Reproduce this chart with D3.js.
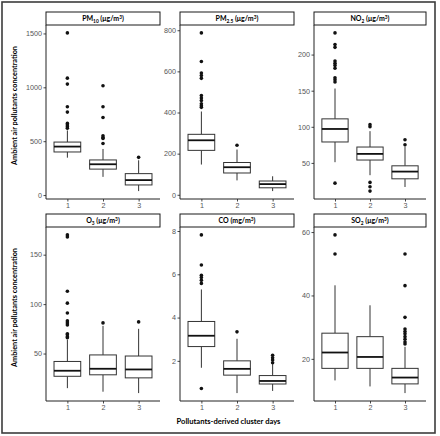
<!DOCTYPE html>
<html><head><meta charset="utf-8">
<script src="https://cdn.jsdelivr.net/npm/d3@7"></script>
<style>body{margin:0;background:#fff}svg{display:block}</style>
</head><body>
<script>
// ---------- DATA ----------
const clusters = ["1", "2", "3"];
const pollutants = ["PM10", "PM2.5", "NO2", "O3", "CO", "SO2"];
// strip labels: [text, kind] kind: n normal, b subscript, p superscript
const stripLabels = [
  [["PM","n"],["10","b"],[" (μg/m","n"],["3","p"],[")","n"]],
  [["PM","n"],["2.5","b"],[" (μg/m","n"],["3","p"],[")","n"]],
  [["NO","n"],["2","b"],[" (μg/m","n"],["3","p"],[")","n"]],
  [["O","n"],["3","b"],[" (μg/m","n"],["3","p"],[")","n"]],
  [["CO (mg/m","n"],["3","p"],[")","n"]],
  [["SO","n"],["2","b"],[" (μg/m","n"],["3","p"],[")","n"]]
];
// box stats per cluster: [lower whisker, q1, median, q3, upper whisker]
const pm10Stats = [[347, 400, 450, 492, 600], [169, 241, 286, 326, 428], [37, 94, 139, 199, 323]];
const pm10Outliers = [[1505, 1085, 1030, 820, 770, 665, 650, 635, 620], [1015, 820, 720, 550, 535, 525, 478], [350]];
const pm25Stats = [[147, 216, 265, 294, 405], [70, 106, 134, 157, 220], [18, 34, 52, 67, 90]];
const pm25Outliers = [[787, 648, 592, 580, 566, 483, 470, 458, 442, 433, 425], [241], []];
const no2Stats = [[51, 79, 97, 111, 153], [33, 54, 62.5, 72, 94], [16.7, 28, 38, 46, 72]];
const no2Outliers = [[230, 214, 210, 191, 188, 185, 181, 168, 165, 162, 22], [103, 100, 23, 17, 11], [82, 75]];
const o3Stats = [[15, 27, 32.6, 42, 64], [11.4, 28.5, 34.6, 48.6, 78], [10, 25.4, 33.9, 47.5, 75]];
const o3Outliers = [[170, 168, 113, 101, 91, 83, 81, 79, 70, 69, 67, 66], [81], [82]];
const coStats = [[1.68, 2.66, 3.16, 3.82, 5.3], [0.51, 1.34, 1.63, 2.0, 3.02], [0.61, 0.93, 1.07, 1.32, 1.85]];
const coOutliers = [[7.82, 6.43, 5.95, 5.85, 5.72, 5.58, 0.72], [3.34], [2.26, 2.14, 2.04, 1.91]];
const so2Stats = [[13.2, 17.0, 22.0, 28.1, 43.2], [11.3, 17.0, 20.6, 27.0, 36.9], [9.2, 12.1, 14.1, 17.0, 23.8]];
const so2Outliers = [[59.1, 53.1], [], [53.1, 43.1, 33.1, 29.4, 28.6, 27.9, 27.0, 26.2, 25.3, 24.7]];
const pm10Ticks = [0, 500, 1000, 1500];
const pm25Ticks = [0, 200, 400, 600, 800];
const no2Ticks = [50, 100, 150, 200];
const o3Ticks = [50, 100, 150];
const coTicks = [2, 4, 6, 8];
const so2Ticks = [20, 40, 60];
const yTitle = "Ambient air pollutants concentration";
const xTitle = "Pollutants-derived cluster days";

const allStats = [pm10Stats, pm25Stats, no2Stats, o3Stats, coStats, so2Stats];
const allOutliers = [pm10Outliers, pm25Outliers, no2Outliers, o3Outliers, coOutliers, so2Outliers];
const allTicks = [pm10Ticks, pm25Ticks, no2Ticks, o3Ticks, coTicks, so2Ticks];

// ---------- LAYOUT ----------
const W = 440, H = 436;
const colX = [[46, 160], [180, 294], [314, 426]];
const rowY = [{strip: 12, top: 25, bottom: 199}, {strip: 214, top: 227, bottom: 401}];
const titleFont = "Lato, 'Open Sans', sans-serif";
const tickFont = "'Liberation Sans', Arial, sans-serif";

const svg = d3.select("body").append("svg").attr("width", W).attr("height", H);
svg.append("rect").attr("width", W).attr("height", H).attr("fill", "#fff");
svg.append("rect").attr("x", 2).attr("y", 2).attr("width", 433).attr("height", 431)
  .attr("fill", "none").attr("stroke", "#3c3c3c").attr("stroke-width", 1.6);

pollutants.forEach((p, i) => {
  const col = i % 3, row = Math.floor(i / 3);
  const [x0, x1] = colX[col];
  const r = rowY[row];
  const stats = allStats[i], outs = allOutliers[i];
  const vals = stats.flat().concat(outs.flat());
  const mn = d3.min(vals), mx = d3.max(vals), span = mx - mn;
  const y = d3.scaleLinear().domain([mn - 0.05 * span, mx + 0.05 * span]).range([r.bottom, r.top]);
  const x = d3.scaleBand().domain(clusters).range([x0, x1]).paddingInner(0.25).paddingOuter(0.475);
  // compute band so that centers follow ggplot discrete expansion (0.6 units)
  const step = (x1 - x0) / (clusters.length - 1 + 1.2);
  const cx = c => x0 + (0.6 + clusters.indexOf(c)) * step;
  const bw = 0.75 * step;

  const g = svg.append("g");
  // strip
  g.append("rect").attr("x", x0).attr("y", r.strip).attr("width", x1 - x0).attr("height", r.top - r.strip)
    .attr("fill", "#fff").attr("stroke", "#1a1a1a").attr("stroke-width", 1);
  const st = g.append("text").attr("x", (x0 + x1) / 2).attr("y", r.strip + 9.3)
    .attr("text-anchor", "middle").attr("font-family", titleFont).attr("font-weight", "bold")
    .attr("font-size", 7).attr("fill", "#000");
  stripLabels[i].forEach(([t, k]) => {
    const ts = st.append("tspan").text(t);
    if (k === "b") ts.attr("font-size", 4.8).attr("dy", 1.5);
    else if (k === "p") ts.attr("font-size", 4.8).attr("dy", -2.5);
    else ts.attr("dy", 0);
  });
  // fix dy resets: tspans after sub/sup need reverse shift
  let prev = 0;
  st.selectAll("tspan").each(function (d, j) {
    const k = stripLabels[i][j][1];
    const cur = k === "b" ? 1.5 : k === "p" ? -2.5 : 0;
    d3.select(this).attr("dy", cur - prev);
    prev = cur;
  });

  // axes
  const yAxis = d3.axisLeft(y).tickValues(allTicks[i]).tickSize(2.5).tickPadding(1.5).tickFormat(d3.format("d"));
  const ya = g.append("g").attr("transform", `translate(${x0},0)`).call(yAxis);
  ya.select(".domain").remove();
  const xa = g.append("g").attr("transform", `translate(0,${r.bottom})`)
    .call(d3.axisBottom(d3.scalePoint().domain(clusters).range([cx("1"), cx("3")])).tickSize(2.5).tickPadding(1.5));
  xa.select(".domain").remove();
  [ya, xa].forEach(a => {
    a.selectAll(".tick line").attr("stroke", "#333").attr("stroke-width", 0.9);
    a.selectAll(".tick text").attr("fill", "#555").attr("font-family", tickFont).attr("font-size", 7.2);
  });
  g.append("line").attr("x1", x0).attr("x2", x0).attr("y1", r.top).attr("y2", r.bottom)
    .attr("stroke", "#222").attr("stroke-width", 1);
  g.append("line").attr("x1", x0).attr("x2", x1).attr("y1", r.bottom).attr("y2", r.bottom)
    .attr("stroke", "#222").attr("stroke-width", 1);

  // boxes
  clusters.forEach((c, k) => {
    const [lo, q1, md, q3, hi] = stats[k];
    const xc = cx(c);
    const bg = g.append("g").attr("stroke", "#333").attr("fill", "#fff");
    bg.append("line").attr("x1", xc).attr("x2", xc).attr("y1", y(hi)).attr("y2", y(q3)).attr("stroke-width", 1);
    bg.append("line").attr("x1", xc).attr("x2", xc).attr("y1", y(q1)).attr("y2", y(lo)).attr("stroke-width", 1);
    bg.append("rect").attr("x", xc - bw / 2).attr("width", bw).attr("y", y(q3)).attr("height", y(q1) - y(q3))
      .attr("stroke-width", 1);
    bg.append("line").attr("x1", xc - bw / 2).attr("x2", xc + bw / 2).attr("y1", y(md)).attr("y2", y(md))
      .attr("stroke", "#111").attr("stroke-width", 1.8);
    g.selectAll(null).data(outs[k]).enter().append("circle")
      .attr("cx", xc).attr("cy", d => y(d)).attr("r", 1.8).attr("fill", "#111");
  });
});

// axis titles
rowY.forEach(r => {
  svg.append("text").attr("transform", `translate(16.5,${(r.strip + r.bottom) / 2}) rotate(-90)`)
    .attr("text-anchor", "middle").attr("font-family", titleFont).attr("font-weight", "bold")
    .attr("font-size", 7.3).attr("fill", "#000").text(yTitle);
});
svg.append("text").attr("x", 228.5).attr("y", 424).attr("text-anchor", "middle")
  .attr("font-family", titleFont).attr("font-weight", "bold").attr("font-size", 7.6).attr("fill", "#000")
  .text(xTitle);
</script>
</body></html>
